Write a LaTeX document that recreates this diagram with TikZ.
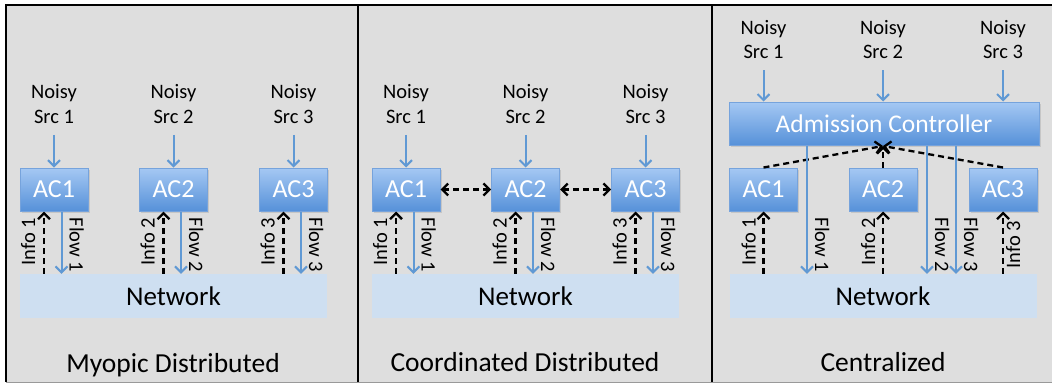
\documentclass[tikz,border=0pt]{standalone}
\usepackage{fontspec}
\setmainfont{Carlito}
\usetikzlibrary{arrows.meta,shadows}

\definecolor{panelgray}{RGB}{222,222,222}
\definecolor{netblue}{RGB}{206,223,241}
\definecolor{actop}{RGB}{165,200,243}
\definecolor{acbot}{RGB}{86,145,217}
\definecolor{acline}{RGB}{118,163,220}
\definecolor{flowblue}{RGB}{96,153,212}

\tikzset{
  acbox/.style={draw=acline, line width=1pt, top color=actop, bottom color=acbot,
    text=white, minimum width=68pt, minimum height=43pt, inner sep=0pt,
    drop shadow={shadow xshift=1.5pt, shadow yshift=-1.5pt, opacity=.25},
    font=\fontsize{26}{26}\selectfont},
  netbox/.style={fill=netblue, minimum width=307pt, minimum height=44pt,
    inner sep=0pt, font=\fontsize{27}{27}\selectfont},
  srctext/.style={align=center, font=\fontsize{20.5}{24.5}\selectfont},
  lbl/.style={inner sep=0pt, font=\fontsize{20.5}{20.5}\selectfont},
  ttl/.style={anchor=base, inner sep=0pt, font=\fontsize{27.5}{27.5}\selectfont},
  flowarr/.style={draw=flowblue, line width=2pt, -{Straight Barb[length=6pt,width=12pt]}},
  infoarr/.style={draw=black, line width=2.3pt, dash pattern=on 6pt off 4pt,
    -{Straight Barb[length=6pt,width=12pt]}},
  linkarr/.style={infoarr, {Straight Barb[length=6pt,width=12pt]}-{Straight Barb[length=6pt,width=12pt]}}
}

\begin{document}
\begin{tikzpicture}[x=1pt,y=-1pt]
  \useasboundingbox (0,0) rectangle (1052,383);

  %%% frame %%%
  \fill[panelgray] (6,5) rectangle (1056,382);
  \draw[gray!80, line width=1pt] (6,382) -- (1056,382);
  \draw[line width=2pt] (1056,5) -- (6,5) -- (6,382);
  \foreach \x in {358, 712}{ \draw[line width=2pt] (\x,5) -- (\x,382); }

  %%% Myopic and Coordinated Distributed %%%
  \foreach \p/\dx in {a/0, b/352}{
    \node[netbox] (net\p) at (173.5+\dx,296) {Network};
    \foreach \i/\cx in {1/54, 2/173.5, 3/293.5}{
      \node[acbox] (ac\i\p) at (\cx+\dx,189.5) {AC\i};
      \node[srctext] (src\i\p) at (\cx+\dx,104) {Noisy\\Src \i};
      \draw[flowarr, shorten <=8pt] (src\i\p) -- (ac\i\p);
      \draw[infoarr] ([xshift=-10pt]ac\i\p.south |- net\p.north) -- ([xshift=-10pt]ac\i\p.south);
      \draw[flowarr] ([xshift=7.5pt]ac\i\p.south) -- ([xshift=7.5pt]ac\i\p.south |- net\p.north);
      \node[lbl, rotate=90, anchor=base east] (info\i\p) at ([xshift=-19pt, yshift=-6pt]ac\i\p.south) {Info \i};
      \node[lbl, rotate=-90, anchor=base west] (flow\i\p) at ([xshift=15.5pt, yshift=-6pt]ac\i\p.south) {Flow \i};
    }
  }
  \draw[linkarr] (ac1b) -- (ac2b);
  \draw[linkarr] (ac2b) -- (ac3b);
  \node[ttl] (ttla) at (173,372) {Myopic Distributed};
  \node[ttl] (ttlb) at (525,371) {Coordinated Distributed};

  %%% Centralized %%%
  \node[acbox, minimum width=310pt, font=\fontsize{25.5}{25.5}\selectfont] (adm) at (884,123.5) {Admission Controller};
  \node[netbox] (netc) at (883,296) {Network};
  \coordinate (tip) at (883,146);
  \foreach \i/\cx in {1/763.5, 2/883, 3/1003}{
    \node[acbox] (ac\i c) at (\cx,189.5) {AC\i};
    \node[srctext] (src\i c) at (\cx,39.5) {Noisy\\Src \i};
    \draw[flowarr, shorten <=8pt] (src\i c) -- (src\i c |- adm.north);
    \draw[infoarr] (ac\i c.south |- netc.north) -- (ac\i c.south);
    \draw[infoarr] (ac\i c.north) -- (tip);
  }
  \foreach \i/\dx in {1/-77, 2/43, 3/72}{
    \draw[flowarr] ([xshift=\dx pt]adm.south) -- ([xshift=\dx pt]adm.south |- netc.north);
    \node[lbl, rotate=-90, anchor=base west] (flow\i c) at ([xshift=\dx pt+8pt, yshift=-6pt]adm.south |- ac1c.south) {Flow \i};
  }
  \node[lbl, rotate=90, anchor=base east] (info1c) at ([xshift=-8pt, yshift=-6pt]ac1c.south) {Info 1};
  \node[lbl, rotate=90, anchor=base east] (info2c) at ([xshift=-8pt, yshift=-6pt]ac2c.south) {Info 2};
  \node[lbl, rotate=90, anchor=base east] (info3c) at ([xshift=17pt, yshift=-9pt]ac3c.south) {Info 3};
  \node[ttl] (ttlc) at (883,371) {Centralized};
\end{tikzpicture}
\end{document}
